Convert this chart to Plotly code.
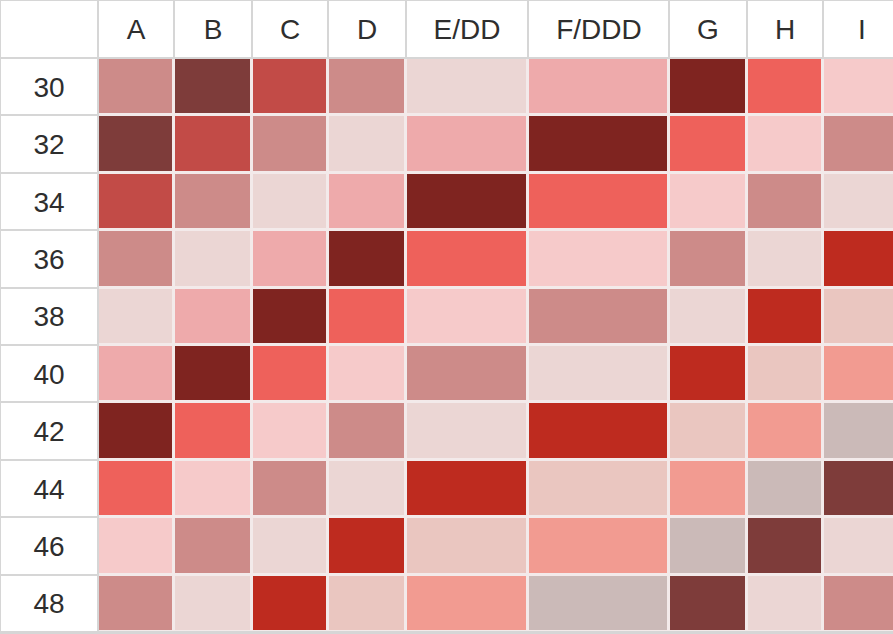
import plotly.graph_objects as go

# ---- data ----
columns = ["A", "B", "C", "D", "E/DD", "F/DDD", "G", "H", "I"]
rows = ["30", "32", "34", "36", "38", "40", "42", "44", "46", "48"]

# colour categories
palette = [
    "#CD8B89",  # 0 dusty rose
    "#7E3C3A",  # 1 dark brown-red
    "#C24B47",  # 2 medium red
    "#EBD6D4",  # 3 very light pink-grey
    "#EEAAAB",  # 4 light pink
    "#7F2420",  # 5 dark red
    "#EE615B",  # 6 coral
    "#F6CACA",  # 7 pale pink
    "#BE2B1F",  # 8 strong red
    "#EAC6C0",  # 9 beige pink
    "#F29B91",  # 10 salmon
    "#CBBAB8",  # 11 grey-pink
]

row30 = [0, 1, 2, 0, 3, 4, 5, 6, 7]
row32 = [1, 2, 0, 3, 4, 5, 6, 7, 0]
row34 = [2, 0, 3, 4, 5, 6, 7, 0, 3]
row36 = [0, 3, 4, 5, 6, 7, 0, 3, 8]
row38 = [3, 4, 5, 6, 7, 0, 3, 8, 9]
row40 = [4, 5, 6, 7, 0, 3, 8, 9, 10]
row42 = [5, 6, 7, 0, 3, 8, 9, 10, 11]
row44 = [6, 7, 0, 3, 8, 9, 10, 11, 1]
row46 = [7, 0, 3, 8, 9, 10, 11, 1, 3]
row48 = [0, 3, 8, 9, 10, 11, 1, 3, 0]
grid = [row30, row32, row34, row36, row38, row40, row42, row44, row46, row48]

# ---- layout sizes (pixels) ----
label_col_width = 98
col_widths = [76, 78, 76, 78, 122, 141, 78, 76, 77]
header_height = 58
row_height = 57.4

x_edges = [0, label_col_width]
for w in col_widths:
    x_edges.append(x_edges[-1] + w)
y_edges = [0, header_height]
for _ in rows:
    y_edges.append(y_edges[-1] + row_height)

n = len(palette) - 1
colorscale = [[i / n, c] for i, c in enumerate(palette)]

white_scale = [[0, "#ffffff"], [1, "#ffffff"]]
font = dict(family="Liberation Sans, Arial, Helvetica, sans-serif", size=28, color="#2e2e2e")

fig = go.Figure()

# header row
fig.add_trace(go.Heatmap(
    x=x_edges, y=y_edges[:2], z=[[0] * (len(columns) + 1)],
    text=[[""] + columns], texttemplate="%{text}", textfont=font,
    colorscale=white_scale, showscale=False, xgap=2, ygap=2, hoverinfo="skip",
))
# row label column
fig.add_trace(go.Heatmap(
    x=x_edges[:2], y=y_edges[1:], z=[[0] for _ in rows],
    text=[[r] for r in rows], texttemplate="%{text}", textfont=font,
    colorscale=white_scale, showscale=False, xgap=2, ygap=2, hoverinfo="skip",
))
# light background under data cells
fig.add_trace(go.Heatmap(
    x=[x_edges[1] + 1, x_edges[-1]], y=[y_edges[1] + 1, y_edges[-1] - 1], z=[[0]],
    colorscale=[[0, "#f3eaea"], [1, "#f3eaea"]], showscale=False, hoverinfo="skip",
))
# data cells
fig.add_trace(go.Heatmap(
    x=x_edges[1:], y=y_edges[1:], z=grid,
    zmin=0, zmax=n, colorscale=colorscale, showscale=False,
    xgap=3, ygap=3, hoverinfo="skip",
))

fig.update_layout(
    width=893, height=634,
    margin=dict(l=0, r=0, t=0, b=0),
    paper_bgcolor="#ffffff",
    plot_bgcolor="#d6d6d6",
    xaxis=dict(range=[0, 893], visible=False, fixedrange=True),
    yaxis=dict(range=[634, 0], visible=False, fixedrange=True),
)

fig.write_html("out.html")
